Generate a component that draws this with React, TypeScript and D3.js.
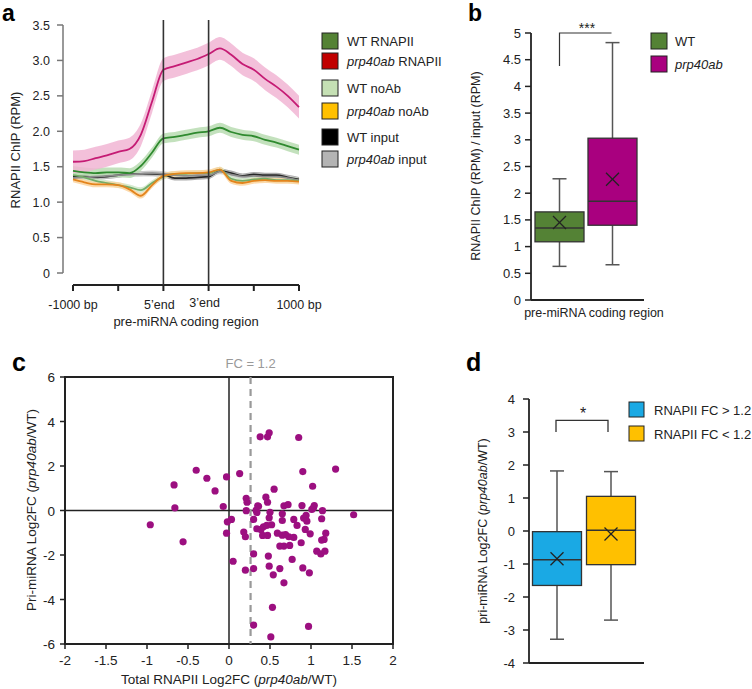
import React from 'react';
import * as d3 from 'd3';

const FONT = '"Liberation Sans", Arial, Helvetica, sans-serif';

// ---------- Panel a: metagene profiles ----------
const profilePos = [0, 5, 10, 15, 20, 25, 30, 35, 40, 45, 50, 55, 60, 65, 70, 75, 80, 85, 90, 95, 100];
const wtRNAPII = [1.44, 1.42, 1.41, 1.42, 1.42, 1.41, 1.51, 1.70, 1.90, 1.92, 1.95, 1.98, 2.00, 2.05, 1.99, 1.95, 1.93, 1.88, 1.84, 1.79, 1.74];
const prpRNAPII = [1.57, 1.58, 1.62, 1.66, 1.71, 1.75, 1.95, 2.42, 2.87, 2.92, 2.97, 3.02, 3.09, 3.17, 3.08, 2.95, 2.87, 2.74, 2.63, 2.50, 2.34];
const wtNoAb = [1.38, 1.35, 1.30, 1.27, 1.24, 1.21, 1.17, 1.27, 1.36, 1.40, 1.40, 1.41, 1.41, 1.46, 1.33, 1.30, 1.32, 1.33, 1.31, 1.31, 1.30];
const prpNoAb = [1.32, 1.28, 1.25, 1.25, 1.24, 1.18, 1.09, 1.24, 1.37, 1.40, 1.41, 1.41, 1.42, 1.46, 1.30, 1.27, 1.30, 1.31, 1.30, 1.30, 1.29];
const wtInput = [1.36, 1.36, 1.35, 1.36, 1.38, 1.40, 1.40, 1.40, 1.39, 1.34, 1.34, 1.35, 1.36, 1.44, 1.41, 1.37, 1.39, 1.38, 1.38, 1.35, 1.32];
const prpInput = [1.34, 1.35, 1.36, 1.37, 1.38, 1.39, 1.40, 1.41, 1.40, 1.38, 1.37, 1.38, 1.38, 1.43, 1.39, 1.36, 1.37, 1.36, 1.36, 1.34, 1.31];
const profileSem = [0.07, 0.16, 0.04, 0.04, 0.035, 0.035];
const profileTicks = [0, 20, 40, 60, 80, 100];
const profileTickLabels: Record<number, string> = { 0: '-1000 bp', 40: '5\u2019end', 60: '3\u2019end', 100: '1000 bp' };
const yTicksA = [0, 0.5, 1, 1.5, 2, 2.5, 3, 3.5];
const legendALabels = ['WT RNAPII', 'prp40ab RNAPII', 'WT noAb', 'prp40ab noAb', 'WT input', 'prp40ab input'];
const legendAColors = ['#548235', '#c00000', '#c5e0b4', '#ffc000', '#000000', '#b4b4b4'];

// ---------- Panel b: box plot ----------
const boxBCats = ['WT', 'prp40ab'];
// [min, q1, median, q3, max, mean]
const boxBStats = [
  [0.63, 1.09, 1.35, 1.65, 2.27, 1.45],
  [0.66, 1.40, 1.85, 3.03, 4.82, 2.26],
];
const boxBColors = ['#548235', '#a9007f'];
const yTicksB = [0, 0.5, 1, 1.5, 2, 2.5, 3, 3.5, 4, 4.5, 5];

// ---------- Panel c: scatter ----------
const scatterPts: [number, number][] = [
  [0.38, 3.31], [0.47, 3.31], [0.49, 3.49], [0.85, 3.28],
  [-0.40, 1.81], [-0.27, 1.45], [-0.03, 1.51], [0.13, 1.66], [0.90, 1.75], [1.30, 1.86],
  [-0.67, 1.15], [-0.17, 0.88], [0.55, 0.96], [1.02, 1.09],
  [-0.66, 0.12], [-0.07, 0.18], [0.21, 0.55], [0.22, 0.37], [0.45, 0.60], [0.47, 0.37],
  [0.21, -0.01], [0.35, 0.21], [0.33, 0.01], [0.67, 0.21], [0.72, 0.26], [0.89, 0.22], [1.04, 0.22], [1.03, 0.12], [1.14, -0.01], [1.52, -0.19],
  [-0.96, -0.64], [-0.56, -1.41], [-0.02, -0.51], [0.03, -0.40], [-0.03, -1.02], [0.18, -0.97], [0.20, -1.18], [0.30, -0.40], [0.50, -0.08], [0.49, -0.33],
  [0.34, -0.82], [0.39, -0.85], [0.42, -0.73], [0.46, -0.67], [0.52, -0.64], [0.41, -1.12], [0.47, -1.12],
  [0.65, -0.15], [0.65, -0.45], [0.79, -0.40], [0.83, -0.67], [0.91, -0.34], [0.94, -0.22], [0.95, -0.48], [1.13, -0.37],
  [0.59, -1.02], [0.65, -1.11], [0.73, -1.18], [0.79, -1.21], [0.93, -0.85], [0.99, -1.05], [1.18, -1.02], [1.13, -1.33], [1.16, -1.30],
  [0.67, -1.60], [0.74, -1.57], [0.88, -1.45],
  [0.05, -2.28], [0.20, -2.68], [0.30, -2.61], [0.30, -1.95], [0.48, -2.05], [0.49, -2.50], [0.54, -2.89], [0.62, -2.61], [0.67, -3.25], [0.77, -2.20], [0.90, -2.58], [0.98, -2.80],
  [0.53, -4.35], [0.30, -5.15], [0.97, -5.21], [0.51, -5.68],
  [1.07, -1.83], [1.12, -1.95], [1.17, -1.83],
  [0.34, -0.09], [0.36, 0.19], [0.69, -1.08], [1.01, 0.05], [0.62, -1.60],
];
const xTicksC = [-2, -1.5, -1, -0.5, 0, 0.5, 1, 1.5, 2];
const yTicksC = [-6, -4, -2, 0, 2, 4, 6];
const fcThreshold = 1.2;

// ---------- Panel d: box plot ----------
const boxDCats = ['RNAPII FC > 1.2', 'RNAPII FC < 1.2'];
const boxDStats = [
  [-3.28, -1.65, -0.87, -0.02, 1.82, -0.84],
  [-2.70, -1.02, 0.02, 1.05, 1.80, -0.09],
];
const boxDColors = ['#1aa9e4', '#ffc000'];
const yTicksD = [-4, -3, -2, -1, 0, 1, 2, 3, 4];

function Italic({ text }: { text: string }) {
  if (text.startsWith('prp40ab')) {
    return (
      <>
        <tspan fontStyle="italic">prp40ab</tspan>
        {text.slice(7)}
      </>
    );
  }
  return <>{text}</>;
}

function BoxPlot({ stats, cx, w, y, fill }: { stats: number[]; cx: number; w: number; y: d3.ScaleLinear<number, number>; fill: string }) {
  const [mn, q1, med, q3, mx, mean] = stats;
  const cap = 7;
  const xs = 6.5;
  return (
    <g>
      <line x1={cx} x2={cx} y1={y(mx)} y2={y(q3)} stroke="#555" strokeWidth={1.5} />
      <line x1={cx} x2={cx} y1={y(q1)} y2={y(mn)} stroke="#555" strokeWidth={1.5} />
      <line x1={cx - cap} x2={cx + cap} y1={y(mx)} y2={y(mx)} stroke="#555" strokeWidth={1.5} />
      <line x1={cx - cap} x2={cx + cap} y1={y(mn)} y2={y(mn)} stroke="#555" strokeWidth={1.5} />
      <rect x={cx - w / 2} y={y(q3)} width={w} height={y(q1) - y(q3)} fill={fill} stroke="#333" strokeWidth={1.3} />
      <line x1={cx - w / 2} x2={cx + w / 2} y1={y(med)} y2={y(med)} stroke="#333" strokeWidth={1.5} />
      <line x1={cx - xs} x2={cx + xs} y1={y(mean) - xs} y2={y(mean) + xs} stroke="#222" strokeWidth={1.3} />
      <line x1={cx - xs} x2={cx + xs} y1={y(mean) + xs} y2={y(mean) - xs} stroke="#222" strokeWidth={1.3} />
    </g>
  );
}

export default function App() {
  // ---- Panel a scales
  const xA = d3.scaleLinear().domain([0, 100]).range([73, 299]);
  const yA = d3.scaleLinear().domain([0, 3.5]).range([273, 25]);
  const series = [
    { v: wtInput, sem: profileSem[4], line: '#262626', band: '#9c9c9c' },
    { v: prpInput, sem: profileSem[5], line: '#8c8c8c', band: '#cfcfcf' },
    { v: wtNoAb, sem: profileSem[2], line: '#73ad68', band: '#cfe8c8' },
    { v: prpNoAb, sem: profileSem[3], line: '#e3841c', band: '#fbd39d' },
    { v: wtRNAPII, sem: profileSem[0], line: '#2f8a2f', band: '#b8dcb2' },
    { v: prpRNAPII, sem: profileSem[1], line: '#c51b74', band: '#f1b5d4' },
  ];
  const lineGen = (vals: number[]) =>
    d3.line<number>().x((_, i) => xA(profilePos[i])).y((d) => yA(d)).curve(d3.curveMonotoneX)(vals) || '';
  const areaGen = (vals: number[], sem: number) =>
    d3
      .area<number>()
      .x((_, i) => xA(profilePos[i]))
      .y0((d) => yA(d - sem))
      .y1((d) => yA(d + sem))
      .curve(d3.curveMonotoneX)(vals) || '';

  // ---- Panel b
  const xB = d3.scaleBand<string>().domain(boxBCats).range([533, 639]);
  const yB = d3.scaleLinear().domain([0, 5]).range([300, 33]);

  // ---- Panel c
  const xC = d3.scaleLinear().domain([-2, 2]).range([65, 393]);
  const yC = d3.scaleLinear().domain([-6, 6]).range([644, 377]);
  const fcX = xC(Math.log2(fcThreshold));

  // ---- Panel d
  const xD = d3.scaleBand<string>().domain(boxDCats).range([530, 638]);
  const yD = d3.scaleLinear().domain([-4, 4]).range([663, 399]);

  const legendRowsA = [41, 61, 88, 111, 137, 159];

  return (
    <svg width={752} height={689} style={{ position: 'absolute', left: 0, top: 0, background: '#fff' }} fontFamily={FONT}>
      <rect width={752} height={689} fill="#fff" />

      {/* ================= Panel a ================= */}
      <text x={2} y={21} fontSize={23} fontWeight="bold">a</text>
      {series.map((s, i) => (
        <path key={'band' + i} d={areaGen(s.v, s.sem)} fill={s.band} opacity={0.85} />
      ))}
      {series.map((s, i) => (
        <path key={'line' + i} d={lineGen(s.v)} fill="none" stroke={s.line} strokeWidth={1.8} />
      ))}
      {/* y axis */}
      <line x1={63} x2={63} y1={yA(3.5)} y2={yA(0)} stroke="#777" strokeWidth={1.5} />
      {yTicksA.map((t) => (
        <g key={'ya' + t}>
          <line x1={57} x2={63} y1={yA(t)} y2={yA(t)} stroke="#777" strokeWidth={1.5} />
          <text x={50} y={yA(t) + 4.5} fontSize={12.5} textAnchor="end" fill="#222">
            {t === 0 ? '0' : t.toFixed(1)}
          </text>
        </g>
      ))}
      <text transform={`translate(20,150) rotate(-90)`} fontSize={13} textAnchor="middle" fill="#222">
        RNAPII ChIP (RPM)
      </text>
      {/* x axis */}
      <line x1={xA(0)} x2={xA(100)} y1={285} y2={285} stroke="#222" strokeWidth={2} />
      {profileTicks.map((t) => (
        <line key={'xa' + t} x1={xA(t)} x2={xA(t)} y1={285} y2={291} stroke="#222" strokeWidth={2} />
      ))}
      {profileTicks
        .filter((t) => profileTickLabels[t])
        .map((t) => (
          <text
            key={'xal' + t}
            x={xA(t) + (t === 40 || t === 60 ? -4 : 0)}
            y={t === 60 ? 307 : 309}
            fontSize={12.5}
            textAnchor="middle"
            fill="#222"
          >
            {profileTickLabels[t]}
          </text>
        ))}
      <text x={186} y={326} fontSize={13} textAnchor="middle" fill="#222">pre-miRNA coding region</text>
      {/* coding region boundaries */}
      {[40, 60].map((t) => (
        <line key={'vb' + t} x1={xA(t)} x2={xA(t)} y1={20} y2={285} stroke="#333" strokeWidth={1.6} />
      ))}
      {/* legend a */}
      {legendALabels.map((l, i) => (
        <g key={'lga' + i}>
          <rect x={322} y={legendRowsA[i] - 8} width={16} height={16} fill={legendAColors[i]} stroke="#222" strokeWidth={1} />
          <text x={347} y={legendRowsA[i] + 5} fontSize={13} fill="#222">
            <Italic text={l} />
          </text>
        </g>
      ))}

      {/* ================= Panel b ================= */}
      <text x={468} y={21} fontSize={23} fontWeight="bold">b</text>
      <line x1={531} x2={531} y1={yB(5)} y2={yB(0)} stroke="#222" strokeWidth={1.8} />
      <line x1={531} x2={644} y1={yB(0)} y2={yB(0)} stroke="#222" strokeWidth={1.8} />
      {yTicksB.map((t) => (
        <g key={'yb' + t}>
          <line x1={525} x2={531} y1={yB(t)} y2={yB(t)} stroke="#222" strokeWidth={1.5} />
          <text x={521} y={yB(t) + 4.5} fontSize={13} textAnchor="end" fill="#222">{String(t)}</text>
        </g>
      ))}
      {boxBCats.map((c, i) => (
        <BoxPlot key={c} stats={boxBStats[i]} cx={(xB(c) || 0) + xB.bandwidth() / 2} w={49} y={yB} fill={boxBColors[i]} />
      ))}
      <path
        d={`M${(xB('WT') || 0) + xB.bandwidth() / 2},${yB(4.38)} V${yB(5)} H${(xB('prp40ab') || 0) + xB.bandwidth() / 2 - 1}`}
        fill="none"
        stroke="#333"
        strokeWidth={1.2}
      />
      <text x={587} y={33} fontSize={14} textAnchor="middle" fill="#222">***</text>
      <text x={594} y={317} fontSize={12.5} textAnchor="middle" fill="#222">pre-miRNA coding region</text>
      <text transform={`translate(480,166) rotate(-90)`} fontSize={12.5} textAnchor="middle" fill="#222">
        RNAPII ChIP (RPM) / input (RPM)
      </text>
      {boxBCats.map((c, i) => (
        <g key={'lgb' + c}>
          <rect x={651} y={[33, 56][i]} width={16} height={16} fill={boxBColors[i]} stroke="#222" strokeWidth={1} />
          <text x={675} y={[33, 56][i] + 13} fontSize={13} fill="#222">
            <Italic text={c} />
          </text>
        </g>
      ))}

      {/* ================= Panel c ================= */}
      <text x={12} y={371} fontSize={25} fontWeight="bold">c</text>
      <rect x={xC(-2)} y={yC(6)} width={xC(2) - xC(-2)} height={yC(-6) - yC(6)} fill="none" stroke="#222" strokeWidth={2} />
      <line x1={xC(-2)} x2={xC(2)} y1={yC(0)} y2={yC(0)} stroke="#222" strokeWidth={1.5} />
      <line x1={xC(0)} x2={xC(0)} y1={yC(6)} y2={yC(-6)} stroke="#222" strokeWidth={1.5} />
      <line x1={fcX} x2={fcX} y1={yC(6)} y2={yC(-6)} stroke="#999" strokeWidth={2.2} strokeDasharray="7,5" />
      <text x={fcX} y={368} fontSize={13} textAnchor="middle" fill="#999">FC = 1.2</text>
      {scatterPts.map((p, i) => (
        <circle key={'pt' + i} cx={xC(p[0])} cy={yC(p[1])} r={3.6} fill="#9c0f80" />
      ))}
      {yTicksC.map((t) => (
        <g key={'yc' + t}>
          <line x1={60} x2={65} y1={yC(t)} y2={yC(t)} stroke="#222" strokeWidth={1.5} />
          <text x={55} y={yC(t) + 5} fontSize={13.5} textAnchor="end" fill="#222">{String(t)}</text>
        </g>
      ))}
      {xTicksC.map((t) => (
        <g key={'xc' + t}>
          <line x1={xC(t)} x2={xC(t)} y1={644} y2={649} stroke="#222" strokeWidth={1.5} />
          <text x={xC(t)} y={665} fontSize={13.5} textAnchor="middle" fill="#222">{String(t)}</text>
        </g>
      ))}
      <text x={229} y={684} fontSize={13.5} textAnchor="middle" fill="#222">
        Total RNAPII Log2FC (<tspan fontStyle="italic">prp40ab</tspan>/WT)
      </text>
      <text transform={`translate(36,510) rotate(-90)`} fontSize={13.5} textAnchor="middle" fill="#222">
        Pri-miRNA Log2FC (<tspan fontStyle="italic">prp40ab</tspan>/WT)
      </text>

      {/* ================= Panel d ================= */}
      <text x={466} y={371} fontSize={25} fontWeight="bold">d</text>
      <line x1={529} x2={529} y1={yD(4)} y2={yD(-4)} stroke="#222" strokeWidth={1.8} />
      <line x1={529} x2={644} y1={yD(-4)} y2={yD(-4)} stroke="#222" strokeWidth={1.8} />
      {yTicksD.map((t) => (
        <g key={'yd' + t}>
          <line x1={523} x2={529} y1={yD(t)} y2={yD(t)} stroke="#222" strokeWidth={1.5} />
          <text x={515} y={yD(t) + 4.5} fontSize={13} textAnchor="end" fill="#222">{String(t)}</text>
        </g>
      ))}
      {boxDCats.map((c, i) => (
        <BoxPlot key={c} stats={boxDStats[i]} cx={(xD(c) || 0) + xD.bandwidth() / 2} w={49} y={yD} fill={boxDColors[i]} />
      ))}
      <path
        d={`M${(xD(boxDCats[0]) || 0) + xD.bandwidth() / 2 - 1},${yD(3)} V${yD(3.35)} H${(xD(boxDCats[1]) || 0) + xD.bandwidth() / 2 - 3} V${yD(3)}`}
        fill="none"
        stroke="#333"
        strokeWidth={1.3}
      />
      <text x={583} y={419} fontSize={16} textAnchor="middle" fill="#222">*</text>
      <text transform={`translate(487,531) rotate(-90)`} fontSize={12.5} textAnchor="middle" fill="#222">
        pri-miRNA Log2FC (<tspan fontStyle="italic">prp40ab</tspan>/WT)
      </text>
      {boxDCats.map((c, i) => (
        <g key={'lgd' + c}>
          <rect x={629} y={[402, 426][i]} width={15} height={15} fill={boxDColors[i]} stroke="#222" strokeWidth={1} />
          <text x={654} y={[402, 426][i] + 12.5} fontSize={13} fill="#222">{c}</text>
        </g>
      ))}
    </svg>
  );
}
